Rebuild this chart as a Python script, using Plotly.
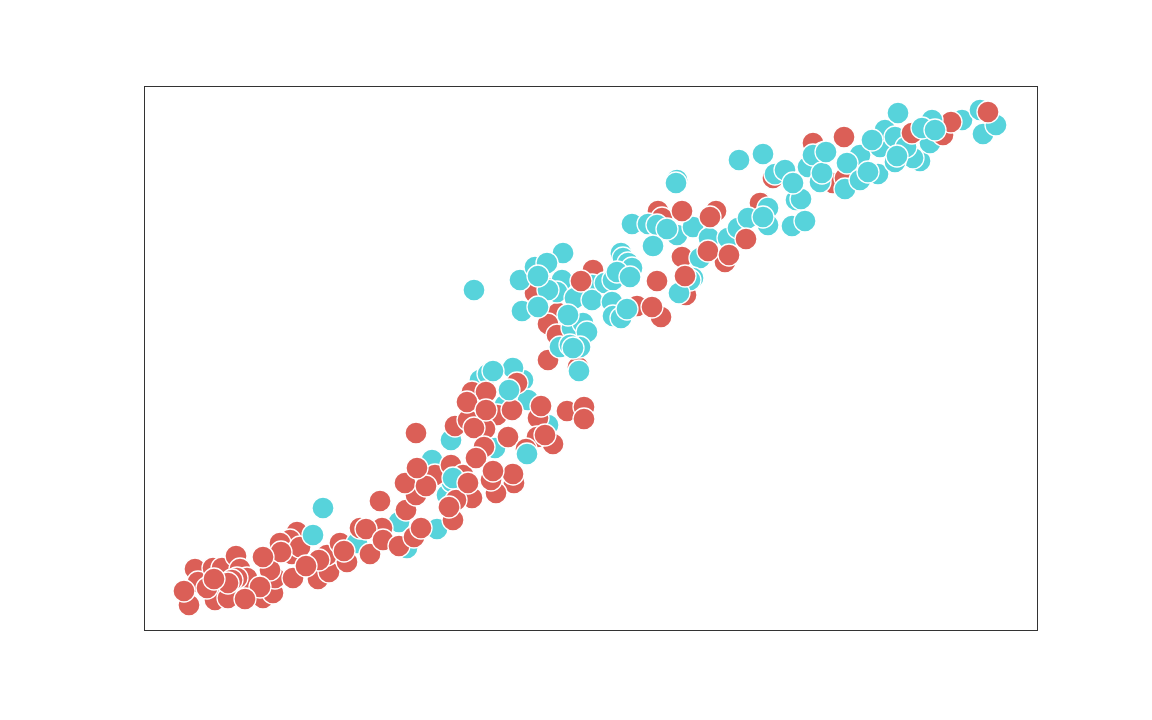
import plotly.graph_objects as go

RED = '#db5f57'
TEAL = '#57d3db'

# values, axis units are arbitrary (no ticks in the chart)
red_back_x = [45, 51, 54, 71, 84, 63, 69, 78, 92, 96, 103, 93, 88, 119, 129, 131, 126, 149, 153, 146, 136,
              148, 156, 137, 116, 174, 185, 183, 175, 203, 196, 162, 119, 84, 70, 40, 101,
              434, 404, 391, 408, 414, 404, 413, 449, 493, 517, 514, 518, 572, 538, 542, 581, 616, 629, 669,
              700, 689, 701]
red_back_y = [25, 61, 48, 30, 32, 42, 62, 62, 74, 61, 52, 52, 50, 32, 37, 52, 60, 52, 98, 90, 87,
              76, 83, 78, 43, 51, 58, 75, 70, 68, 87, 64, 73, 47, 51, 39, 31,
              263, 270, 337, 342, 317, 306, 295, 360, 324, 313, 419, 412, 419, 373, 335, 368, 427, 452, 487,
              493, 447, 452]

teal_mid_x = [179, 169, 213, 255, 263, 293, 303, 308, 288, 307, 351, 404, 379, 336, 369, 361, 384, 344,
              330, 419, 376, 391, 403, 418, 413, 404, 394, 378, 394, 431, 448, 448, 428, 439, 443, 416, 436,
              426, 429, 477, 479, 484, 488, 461, 469, 473, 486, 468, 469, 477, 483,
              488, 504, 513, 509, 533, 549, 523, 533, 532, 565, 556, 549, 546, 535, 584, 594, 604, 624, 624,
              619, 595, 619, 648, 661, 652, 657, 631, 641, 649, 664, 679, 676, 669, 678, 682, 716, 703, 701,
              716, 734, 724, 736, 741, 751, 728, 754, 776, 769, 762, 751, 753, 786, 818, 836, 839, 852]
teal_mid_y = [122, 95, 87, 108, 82, 101, 135, 148, 170, 190, 182, 205, 250, 250, 262, 225, 230, 256,
              340, 377, 350, 363, 367, 350, 338, 340, 354, 319, 323, 332, 345, 330, 302, 307, 298, 283, 283,
              285, 282, 377, 372, 367, 362, 347, 350, 358, 353, 328, 314, 312, 321,
              406, 406, 405, 384, 395, 403, 401, 450, 447, 392, 372, 352, 350, 337, 392, 402, 412, 422, 405,
              413, 470, 476, 404, 409, 430, 431, 456, 460, 447, 463, 477, 448, 475, 457, 478, 475, 467, 441,
              450, 456, 458, 483, 500, 493, 490, 517, 469, 472, 483, 468, 474, 487, 510, 520, 496, 505]

red_mid_x = [200, 238, 216, 222, 226, 239, 255, 236, 262, 270, 277, 272, 261, 291, 282, 273, 272, 311,
             328, 312, 309, 305, 307, 319,
             373, 328, 342, 353, 341, 324, 330, 323, 342, 368, 394, 397, 364, 409, 393, 401, 382, 340,
             423, 440, 440, 437, 508, 513, 538, 566, 564, 585, 602, 541, 768, 799, 807]
red_mid_y = [79, 102, 102, 101, 76, 90, 84, 129, 120, 93, 102, 135, 147, 155, 144, 162, 197, 204,
             132, 130, 110, 123, 165, 155,
             247, 238, 238, 215, 201, 210, 202, 228, 220, 220, 212, 224, 193, 186, 193, 195, 181, 183,
             219, 223, 211, 349, 323, 349, 419, 413, 379, 375, 391, 354, 497, 495, 508]

teal_top_x = [309, 383, 349, 365, 435, 424, 788, 778, 791]
teal_top_y = [152, 176, 259, 240, 259, 315, 510, 502, 500]

red_top_x = [324, 332, 370, 369, 352, 347, 349, 844]
red_top_y = [147, 172, 147, 156, 137, 150, 159, 518]

# drawn back to front, the colours overlap each other in the original
layers = [
    (red_back_x, red_back_y, RED),
    (teal_mid_x, teal_mid_y, TEAL),
    (red_mid_x, red_mid_y, RED),
    (teal_top_x, teal_top_y, TEAL),
    (red_top_x, red_top_y, RED),
]

fig = go.Figure()
for xs, ys, color in layers:
    fig.add_trace(go.Scatter(x=xs, y=ys, mode='markers',
                             marker={'color': color, 'size': 22,
                                     'line': {'color': 'white', 'width': 1.3}},
                             hoverinfo='skip'))

axis_style = {'showticklabels': False, 'ticks': '', 'showgrid': False,
              'zeroline': False, 'showline': True, 'mirror': True,
              'linecolor': '#333333', 'linewidth': 1}
# the page body has an 8px margin, so the figure is 16px smaller than the window
fig.update_layout(width=1136, height=704, showlegend=False,
                  plot_bgcolor='white', paper_bgcolor='white',
                  margin={'l': 137, 'r': 107, 't': 79, 'b': 82},
                  xaxis={**axis_style, 'range': [1, 893]},
                  yaxis={**axis_style, 'range': [0, 543]})
fig.write_html("out.html")
